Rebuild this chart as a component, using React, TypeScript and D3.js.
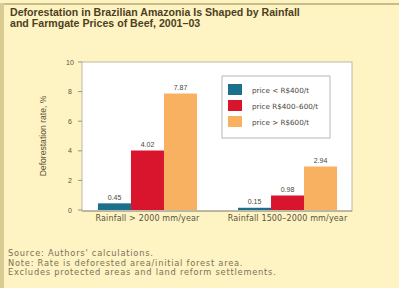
import React from "react";
import * as d3 from "d3";

const categories = ["Rainfall > 2000 mm/year", "Rainfall 1500–2000 mm/year"];
const seriesNames = ["price < R$400/t", "price R$400–600/t", "price > R$600/t"];
const lowPrice = [0.45, 0.15];
const midPrice = [4.02, 0.98];
const highPrice = [7.87, 2.94];
const yTicks = [0, 2, 4, 6, 8, 10];
const colors = ["#1d6f8e", "#d8152d", "#f7b160"];
const titleLines = [
  "Deforestation in Brazilian Amazonia Is Shaped by Rainfall",
  "and Farmgate Prices of Beef, 2001–03",
];
const notes = [
  "Source: Authors' calculations.",
  "Note: Rate is deforested area/initial forest area.",
  "Excludes protected areas and land reform settlements.",
];

export default function App() {
  const W = 399, H = 288;
  const left = 82, right = 353, top = 62, bottom = 210;
  const series = [lowPrice, midPrice, highPrice];
  const x0 = d3.scaleBand<string>().domain(categories).range([left, right]).paddingInner(0.293).paddingOuter(0.114);
  const x1 = d3.scaleBand<number>().domain([0, 1, 2]).range([0, x0.bandwidth()]);
  const y = d3.scaleLinear().domain([0, 10]).range([bottom, top]);
  const font = "'Liberation Sans', Arial, sans-serif";
  const wide = "'DejaVu Sans', sans-serif";
  return (
    <svg width={W} height={H} style={{ position: "absolute", left: 0, top: 0 }} fontFamily={font}>
      <rect x={0} y={0} width={W} height={H} fill="#fef3c2" />
      <rect x={0} y={3} width={W} height={2} fill="#c9bd85" />
      <rect x={0} y={3} width={4} height={H - 3} fill="#d8cc92" />
      {titleLines.map((t, i) => (
        <text key={i} x={10} y={16 + i * 10.5} fontSize={10.6} fontWeight="bold" fill="#4e3f22">{t}</text>
      ))}
      <rect x={left} y={top} width={right - 1 - left} height={bottom + 1 - top} fill="#ffffff" stroke="#bdb8a8" strokeWidth={1} />
      {yTicks.map((t) => (
        <g key={t}>
          <line x1={left - 4} x2={left} y1={y(t)} y2={y(t)} stroke="#9a9580" />
          <text x={70} y={y(t) + 2.5} fontSize={7} textAnchor="middle" fill="#5b5340">{t}</text>
        </g>
      ))}
      <text transform={`translate(46,${(top + bottom) / 2}) rotate(-90)`} fontSize={8.6} textAnchor="middle" fill="#5b5340">Deforestation rate, %</text>
      {categories.map((c, ci) => (
        <g key={c} transform={`translate(${x0(c)},0)`}>
          {series.map((s, si) => (
            <g key={si}>
              <rect x={x1(si)} y={y(s[ci])} width={x1.bandwidth()} height={y(0) - y(s[ci])} fill={colors[si]} />
              <text x={(x1(si) as number) + x1.bandwidth() / 2} y={y(s[ci]) - 3.5} fontSize={7} textAnchor="middle" fill="#4a4638">{s[ci].toFixed(2)}</text>
            </g>
          ))}
          <text x={x0.bandwidth() / 2} y={221} fontSize={8} fontFamily={wide} letterSpacing={0.15} textAnchor="middle" fill="#5b5340">{c}</text>
        </g>
      ))}
      <line x1={left} x2={right - 1} y1={bottom + 1} y2={bottom + 1} stroke="#9a9580" />
      <rect x={222} y={76} width={108} height={62} fill="#ffffff" stroke="#b8b8c0" strokeWidth={1} />
      {seriesNames.map((n, i) => (
        <g key={n}>
          <rect x={228} y={84 + i * 16} width={14} height={11} fill={colors[i]} />
          <text x={252} y={92.5 + i * 16} fontSize={7.2} fontFamily={wide} fill="#4a4638">{n}</text>
        </g>
      ))}
      {notes.map((n, i) => (
        <text key={i} x={8} y={256 + i * 9.5} fontSize={8.3} fontFamily={wide} letterSpacing={0.75} fill="#7a7258">{n}</text>
      ))}
    </svg>
  );
}
